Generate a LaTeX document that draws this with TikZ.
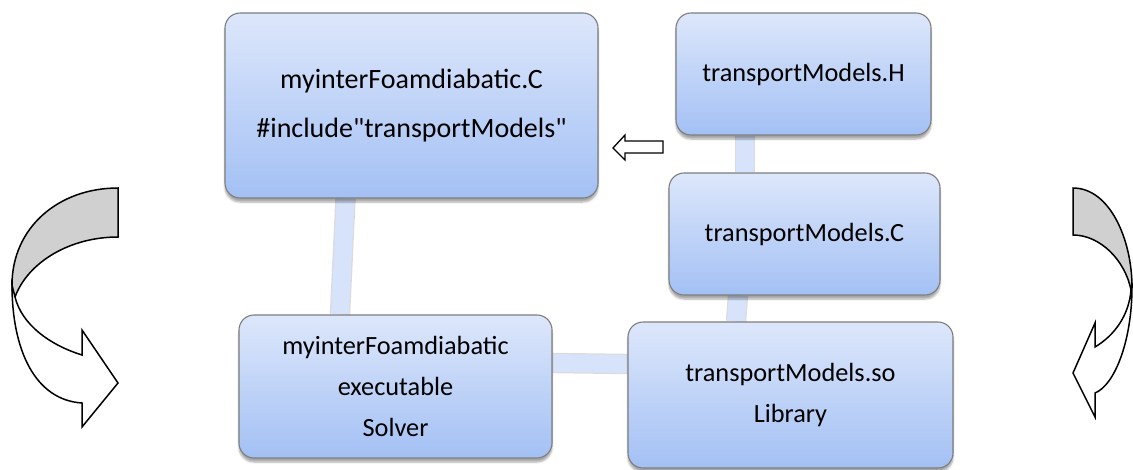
\documentclass[tikz,border=0pt]{standalone}
\usepackage{fontspec}
\setmainfont{Carlito}
% a second face of the same family without TeX ligatures, so that " stays straight
\newfontfamily\boxfont{Carlito}
\usetikzlibrary{calc,shadows.blur,backgrounds}
\definecolor{boxtop}{RGB}{221,231,251}
\definecolor{boxbot}{RGB}{163,192,244}
\definecolor{boxedge}{RGB}{125,125,125}
\definecolor{barfill}{RGB}{214,227,251}
\definecolor{bandgray}{RGB}{208,208,208}
\tikzset{
  filebox/.style={draw=boxedge, line width=1.1pt, rounded corners=15pt,
    top color=boxtop, bottom color=boxbot, align=center, inner sep=0pt,
    blur shadow={shadow xshift=0pt, shadow yshift=-4pt, shadow blur steps=6, shadow opacity=35}},
  bigtext/.style={font=\boxfont\fontsize{28}{49}\selectfont},
  smalltext/.style={font=\boxfont\fontsize{26.3}{41}\selectfont},
  bar/.style={line width=1.2pt, draw=black!14, double=barfill, double distance=18pt},
  outline/.style={draw=black, line width=1.5pt, line join=miter},
}
\begin{document}
\begin{tikzpicture}[x=1pt, y=-1pt]
\useasboundingbox (0,0) rectangle (1133,469);

% source, header, implementation, solver and library boxes
\node[filebox, bigtext, minimum width=373pt, minimum height=185pt] (A) at (411.5,105.5)
  {myinterFoamdiabatic.C\\\#include"transportModels"};
\node[filebox, smalltext, minimum width=255pt, minimum height=122pt] (H) at (803.5,74)
  {transportModels.H};
\node[filebox, smalltext, minimum width=271pt, minimum height=122pt] (C) at (804.5,234)
  {transportModels.C};
\node[filebox, smalltext, minimum width=313pt, minimum height=143pt] (S) at (395.5,386.5)
  {myinterFoamdiabatic\\executable\\Solver};
\node[filebox, smalltext, minimum width=325pt, minimum height=146pt] (L) at (790.5,395)
  {transportModels.so\\Library};

% links between the boxes, kept behind them
\begin{pgfonlayer}{background}
  \draw[bar] ($(A.south)+(-66,0)$) -- ($(S.north)+(-55.5,0)$);
  \draw[bar] ($(S.east)+(0,-23.5)$) -- ($(L.west)+(0,-31)$);
  \draw[bar] ($(H.south)+(-58.5,0)$) -- ($(C.north)+(-59.5,0)$);
  \draw[bar] ($(C.south)+(-66.5,0)$) -- ($(L.north)+(-54.5,0)$);
\end{pgfonlayer}

% hollow arrow pointing at the source file
\coordinate (tip) at (613,148);
\draw[outline, line width=1.3pt, fill=white] (tip) -- ++(12,-13) -- ++(0,6) -- ++(38,0) -- ++(0,12)
  -- ++(-38,0) -- ++(0,7) -- cycle;

% left curved arrow
\draw[outline, fill=bandgray] (118,188) -- (118,237)
  .. controls (70,237) and (28,262) .. (15,297) -- (12,290) -- (12,285)
  .. controls (12,228) and (58,188) .. (118,188) -- cycle;
\draw[outline, fill=white] (12,285) .. controls (12,350) and (35,400) .. (82,403)
  -- (82,427) -- (118,383) -- (82,330) -- (82,355)
  .. controls (50,345) and (22,325) .. (15,297) -- cycle;

% right curved arrow
\draw[outline, fill=bandgray] (1073,188) -- (1073,235)
  .. controls (1100,235) and (1125,260) .. (1131,290)
  -- (1132,287) .. controls (1132,240) and (1110,188) .. (1073,188) -- cycle;
\draw[outline, fill=white] (1132,287) .. controls (1132,340) and (1115,385) .. (1095,393)
  -- (1095,417) -- (1073,373) -- (1095,323) -- (1095,347)
  .. controls (1115,335) and (1129,315) .. (1131,290) -- cycle;
\end{tikzpicture}
\end{document}
